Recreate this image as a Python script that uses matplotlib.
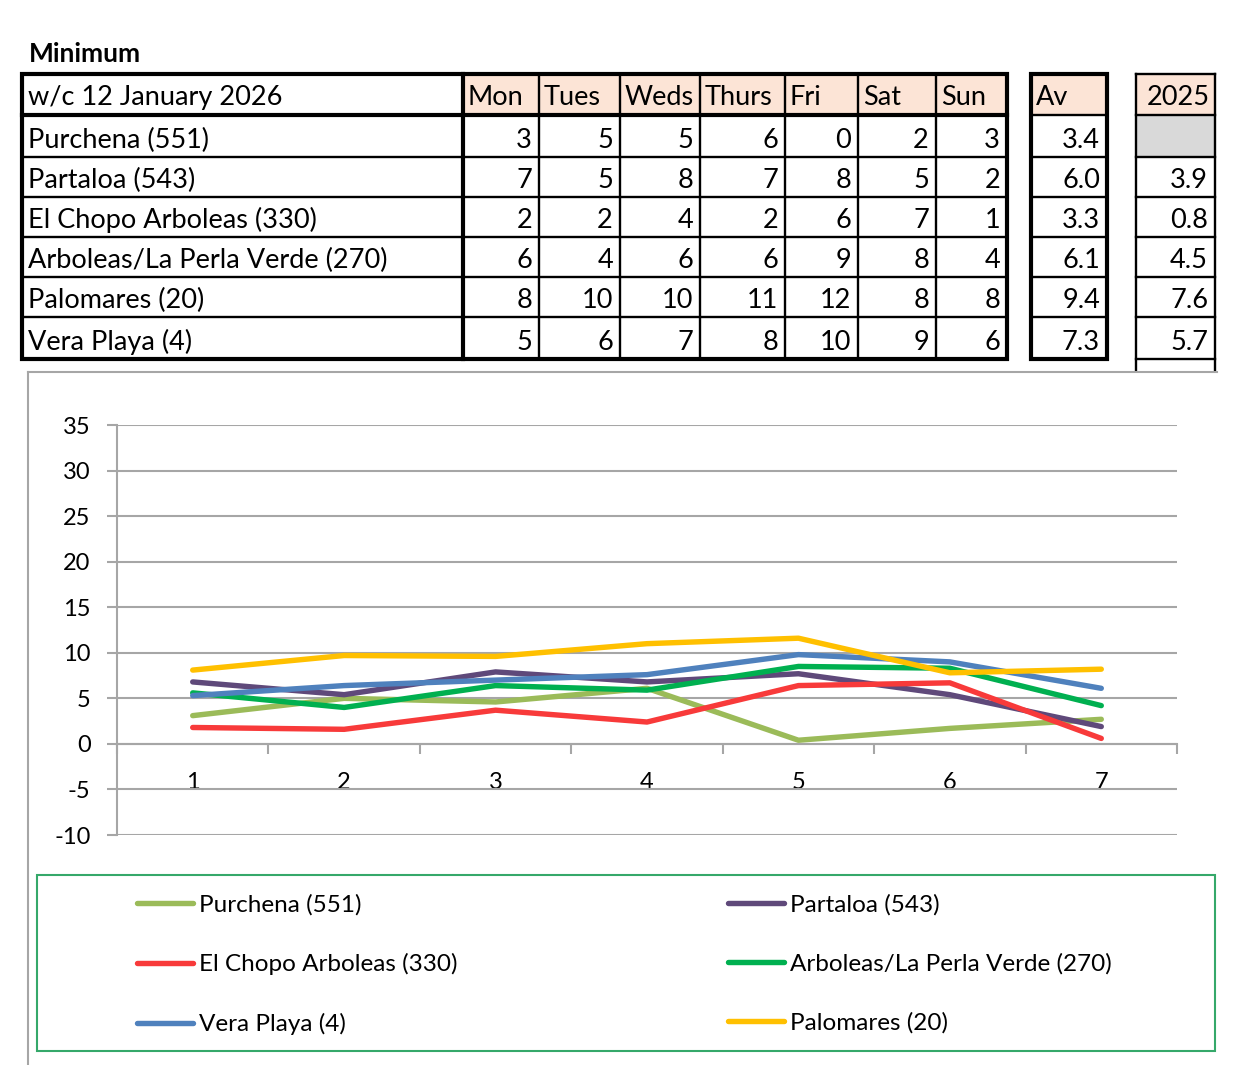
import matplotlib
matplotlib.use('Agg')
import matplotlib.pyplot as plt
from matplotlib.patches import Rectangle

plt.rcParams['font.family'] = ['Lato', 'DejaVu Sans']
plt.rcParams['axes.unicode_minus'] = False

# table contents
title = 'Minimum'
week_label = 'w/c 12 January 2026'
days = ['Mon', 'Tues', 'Weds', 'Thurs', 'Fri', 'Sat', 'Sun']
sites = ['Purchena (551)', 'Partaloa (543)', 'El Chopo Arboleas (330)',
         'Arboleas/La Perla Verde (270)', 'Palomares (20)', 'Vera Playa (4)']
table_vals = [[3, 5, 5, 6, 0, 2, 3],
              [7, 5, 8, 7, 8, 5, 2],
              [2, 2, 4, 2, 6, 7, 1],
              [6, 4, 6, 6, 9, 8, 4],
              [8, 10, 10, 11, 12, 8, 8],
              [5, 6, 7, 8, 10, 9, 6]]
averages = [3.4, 6.0, 3.3, 6.1, 9.4, 7.3]
last_year = [None, 3.9, 0.8, 4.5, 7.6, 5.7]

# unrounded values behind the chart lines
day_no = [1, 2, 3, 4, 5, 6, 7]
purchena = [3.1, 5.0, 4.6, 6.1, 0.4, 1.7, 2.7]
partaloa = [6.8, 5.4, 7.9, 6.8, 7.7, 5.4, 1.9]
el_chopo = [1.8, 1.6, 3.7, 2.4, 6.4, 6.7, 0.6]
arboleas = [5.6, 4.0, 6.4, 5.9, 8.5, 8.3, 4.2]
vera = [5.3, 6.4, 7.0, 7.6, 9.8, 9.0, 6.1]
palomares = [8.1, 9.7, 9.6, 11.0, 11.6, 7.8, 8.2]

series = [('Purchena (551)', purchena, '#9BBB59'),
          ('Partaloa (543)', partaloa, '#5F497A'),
          ('El Chopo Arboleas (330)', el_chopo, '#F83A3A'),
          ('Arboleas/La Perla Verde (270)', arboleas, '#00B050'),
          ('Vera Playa (4)', vera, '#4F81BD'),
          ('Palomares (20)', palomares, '#FFC000')]

W, H = 1245, 1065
fig = plt.figure(figsize=(W / 100, H / 100), dpi=100)

# overlay in pixel coords for the spreadsheet table
tab = fig.add_axes([0, 0, 1, 1])
tab.set_xlim(0, W)
tab.set_ylim(H, 0)
tab.axis('off')

peach = '#FCE4D6'
grey = '#D9D9D9'
thick = 3.0
thin = 1.7

col_edges = [22, 463, 539, 620, 700, 785, 858, 936, 1007]
av_edges = [1031, 1107]
ly_edges = [1136, 1215]
row_edges = [74, 115, 157, 197, 237, 277, 317, 359]
top, hdr, bot = row_edges[0], row_edges[1], row_edges[-1]


def hl(y, x0, x1, lw):
    tab.plot([x0, x1], [y, y], color='black', lw=lw, solid_capstyle='projecting')


def vl(x, y0, y1, lw):
    tab.plot([x, x], [y0, y1], color='black', lw=lw, solid_capstyle='projecting')


# fills
tab.add_patch(Rectangle((col_edges[1], top), col_edges[-1] - col_edges[1], hdr - top, color=peach, lw=0))
tab.add_patch(Rectangle((av_edges[0], top), av_edges[1] - av_edges[0], hdr - top, color=peach, lw=0))
tab.add_patch(Rectangle((ly_edges[0], top), ly_edges[1] - ly_edges[0], hdr - top, color=peach, lw=0))
tab.add_patch(Rectangle((ly_edges[0], row_edges[1]), ly_edges[1] - ly_edges[0],
                        row_edges[2] - row_edges[1], color=grey, lw=0))

# main block grid
for y in row_edges[2:-1]:
    hl(y, col_edges[0], col_edges[-1], thin)
for x in col_edges[2:-1]:
    vl(x, top, bot, thin)
hl(hdr, col_edges[0], col_edges[-1], thick)
vl(col_edges[1], top, bot, thick)
tab.add_patch(Rectangle((col_edges[0], top), col_edges[-1] - col_edges[0], bot - top,
                        fill=False, lw=thick, ec='black'))

# average block
for y in row_edges[1:-1]:
    hl(y, av_edges[0], av_edges[1], thin)
tab.add_patch(Rectangle((av_edges[0], top), av_edges[1] - av_edges[0], bot - top,
                        fill=False, lw=thick, ec='black'))

# last year block (continues below the visible rows)
for y in row_edges:
    hl(y, ly_edges[0], ly_edges[1], thin)
for x in ly_edges:
    vl(x, top, 371, thin)

fs = 19.5
tab.text(29, 62, title, fontsize=19, fontweight='bold', va='baseline')
tab.text(col_edges[0] + 6, hdr - 10, week_label, fontsize=fs, va='baseline')
for j, d in enumerate(days):
    tab.text(col_edges[j + 1] + 5, hdr - 10, d, fontsize=fs, va='baseline')
tab.text(av_edges[0] + 5, hdr - 10, 'Av', fontsize=fs, va='baseline')
tab.text(ly_edges[1] - 5, hdr - 10, '2025', fontsize=fs, va='baseline', ha='right')

for i, name in enumerate(sites):
    yb = row_edges[i + 2] - 9
    tab.text(col_edges[0] + 6, yb, name, fontsize=fs, va='baseline')
    for j, v in enumerate(table_vals[i]):
        tab.text(col_edges[j + 2] - 7, yb, str(v), fontsize=fs, va='baseline', ha='right')
    tab.text(av_edges[1] - 7, yb, f'{averages[i]:.1f}', fontsize=fs, va='baseline', ha='right')
    if last_year[i] is not None:
        tab.text(ly_edges[1] - 7, yb, f'{last_year[i]:.1f}', fontsize=fs, va='baseline', ha='right')

# chart frame and legend frame
gridc = '#A6A6A6'
tab.plot([28, 1217], [372, 372], color=gridc, lw=1.5)
tab.plot([28, 28], [372, H], color=gridc, lw=1.5)
tab.add_patch(Rectangle((37, 875), 1215 - 37, 1051 - 875, fill=False, ec='#35A86A', lw=1.5))

# line chart
ax = fig.add_axes([117 / W, 1 - 835 / H, (1177 - 117) / W, (835 - 425) / H])
ax.set_zorder(2)
ax.patch.set_alpha(0)
handles = {}
for name, vals, col in series:
    h, = ax.plot(day_no, vals, color=col, lw=3.9, solid_capstyle='round', label=name)
    handles[name] = h

ax.set_xlim(0.5, 7.5)
ax.set_ylim(-10, 35)
ax.set_yticks(range(-10, 36, 5))
ax.yaxis.grid(True, color=gridc, lw=1.5)
ax.set_axisbelow(True)
ax.set_xticks(day_no)
ax.set_xticks([x + 0.5 for x in range(0, 8)], minor=True)
for s in ['top', 'right']:
    ax.spines[s].set_visible(False)
ax.spines['left'].set_color(gridc)
ax.spines['left'].set_linewidth(1.5)
ax.spines['bottom'].set_position(('data', 0))
ax.spines['bottom'].set_color(gridc)
ax.spines['bottom'].set_linewidth(1.5)
ax.tick_params(axis='y', length=7, width=1.5, color=gridc, labelsize=17, pad=12)
ax.tick_params(axis='x', which='major', length=0, labelsize=17, pad=20)
ax.tick_params(axis='x', which='minor', length=7, width=1.5, color=gridc, direction='out')

# legend, two columns
left_col = ['Purchena (551)', 'El Chopo Arboleas (330)', 'Vera Playa (4)']
right_col = ['Partaloa (543)', 'Arboleas/La Perla Verde (270)', 'Palomares (20)']
for names, x0 in [(left_col, 137), (right_col, 728)]:
    fig.legend([handles[n] for n in names], names, loc='upper left',
               bbox_to_anchor=(x0 / W, 1 - 894 / H), frameon=False, fontsize=17.5,
               handlelength=2.3, handletextpad=0.25, labelspacing=1.55,
               borderpad=0, borderaxespad=0)

fig.savefig('out.png', dpi=100)
